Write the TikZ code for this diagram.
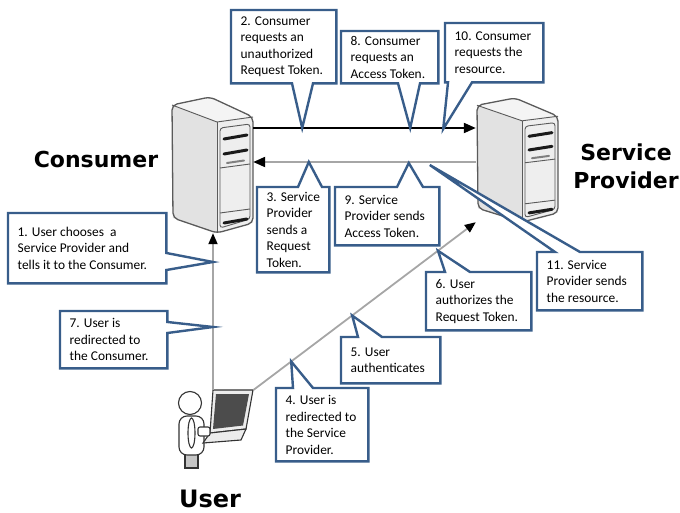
\documentclass[tikz,border=0pt]{standalone}
\usepackage{fontspec}
\newfontfamily\callfont{Carlito}
\newfontfamily\headfont{DejaVu Sans}
\usetikzlibrary{arrows.meta,calc}

\definecolor{calloutblue}{HTML}{385D8A}
\definecolor{linegray}{HTML}{A6A6A6}
\definecolor{srvline}{HTML}{5A5A5A}
\definecolor{srvtop}{HTML}{F4F4F4}
\definecolor{srvside}{HTML}{E2E2E2}
\definecolor{srvfront}{HTML}{EEEEEE}
\definecolor{slotdark}{HTML}{1A1A1A}

\pgfdeclarelayer{art}
\pgfdeclarelayer{bubble}
\pgfsetlayers{art,bubble,main}

\tikzset{
  bubblebox/.style={anchor=north west, inner sep=0pt},
  bubbletext/.style={anchor=west, xshift=9.5pt, inner sep=0pt, align=left,
    font=\callfont\fontsize{13.4}{16.5}\selectfont},
  bubble/.style={draw=calloutblue, line width=2.4pt, fill=white},
  heading/.style={font=\headfont\bfseries\fontsize{22}{28}\selectfont, align=center, inner sep=0pt},
  reqline/.style={draw=black, line width=2pt, -{Triangle[length=12pt,width=10pt]}},
  respline/.style={draw=linegray, line width=2pt, -{Triangle[length=12pt,width=10pt,color=black]}},
  userline/.style={draw=linegray, line width=1.8pt, -{Triangle[length=11pt,width=9pt,color=black]}},
  region/.style={inner sep=0pt},
  srvedge/.style={draw=srvline, line width=0.9pt},
  slot/.style={draw=slotdark, line width=3pt, line cap=round},
  person/.style={draw=black!80, line width=1.1pt, fill=white},
}

% tower server in local coordinates (82 x 136)
\newcommand\servershape{%
  \fill[srvtop] (1,8) -- (39,0) -- (82,20) -- (46,25) -- cycle;
  \fill[srvside] (1,8) -- (46,25) -- (46,136) -- (2,121) -- cycle;
  \fill[srvfront] (46,25) -- (82,20) -- (82,126) -- (46,136) -- cycle;
  \draw[srvedge] (1,8) -- (46,25) -- (82,20);
  \draw[srvedge] (46,25) -- (46,136);
  \draw[srvedge, rounded corners=3pt] (49,31) -- (79,27) -- (79,122) -- (49,131) -- cycle;
  \draw[srvedge] (49,71) -- (79,67);
  \draw[srvedge] (49,116) -- (79,112);
  \draw[slot] (53,42) -- (76,38);
  \draw[slot] (53,57) -- (76,53);
  \draw[slot, draw=gray, line width=2pt] (56,66) -- (73,63.5);
  \draw[slot] (53,126) -- (76,122);
  \draw[draw=srvline, line width=1.3pt, rounded corners=5pt]
    (1,8) -- (39,0) -- (82,20) -- (82,126) -- (46,136) -- (2,121) -- cycle;
}

% speech bubbles: box node, two base offsets along the edge, tip coordinate
\newcommand\bubbleT[4]{\draw[bubble] (#1.south west) -- (#1.north west) --
  ($(#1.north west)+(#2,0)$) -- (#4) -- ($(#1.north west)+(#3,0)$) --
  (#1.north east) -- (#1.south east) -- cycle;}
\newcommand\bubbleB[4]{\draw[bubble] (#1.north west) -- (#1.north east) --
  (#1.south east) -- ($(#1.south west)+(#3,0)$) -- (#4) --
  ($(#1.south west)+(#2,0)$) -- (#1.south west) -- cycle;}
\newcommand\bubbleR[4]{\draw[bubble] (#1.north west) -- (#1.north east) --
  ($(#1.north east)+(0,#2)$) -- (#4) -- ($(#1.north east)+(0,#3)$) --
  (#1.south east) -- (#1.south west) -- cycle;}

\begin{document}
\begin{tikzpicture}[x=1pt,y=-1pt]
\useasboundingbox (0,0) rectangle (680,513);

% regions occupied by the machines and the laptop
\node[region, minimum width=82pt, minimum height=136pt] (consumer) at (212,165) {};
\node[region, minimum width=82pt, minimum height=124pt] (provider) at (517,160) {};
\node[region, minimum width=40pt, minimum height=42pt, anchor=north west] (laptop) at (213,390) {};

\begin{pgfonlayer}{art}
  \begin{scope}[shift={(171,97)}] \servershape \end{scope}
  \begin{scope}[shift={(476,98)}, yscale=0.912] \servershape \end{scope}

  % the user
  \draw[person, fill=gray!45] (185,450) rectangle (198,468);
  \draw[person, rounded corners=8pt] (179,455) -- (179,416) -- (204,416) -- (204,455) -- cycle;
  \draw[person] (191.5,433) ellipse [x radius=3.5, y radius=15];
  \draw[person] (190,403) circle [radius=11.5];

  % laptop
  \draw[person, fill=gray!15] (213,390) -- (253,390) -- (246,429) -- (210,433) -- cycle;
  \fill[black!70] (216,394) -- (249,394) -- (243,425.5) -- (213,429) -- cycle;
  \draw[person, fill=gray!15] (210,433) -- (246,429) -- (241,440) -- (203,443) -- cycle;
  \draw[person, rounded corners=2pt] (198,427) rectangle (210,436);

  % message flows
  \draw[reqline] ([yshift=37pt]consumer.east) coordinate (f0) -- (f0 -| provider.west);
  \draw[respline] ([yshift=-2pt]provider.west) coordinate (r0) -- (r0 -| consumer.east);
  \draw[userline] (laptop.north west) -- (laptop.north west |- consumer.south);
  \draw[userline] (laptop.north east) -- (provider.south west);
\end{pgfonlayer}

% points where the bubbles touch the flows
\coordinate (t1) at ($(laptop.north west)+(0,-128)$);
\coordinate (t7) at ($(laptop.north west)+(0,-63)$);
\coordinate (t2) at ($(f0)+(49,0)$);
\coordinate (t8) at ($(f0)+(157,0)$);
\coordinate (t10) at ($(f0)+(190,1)$);
\coordinate (t3) at ($(r0)+(-167,0)$);
\coordinate (t9) at ($(r0)+(-67,1)$);
\coordinate (t11) at ($(r0)+(-46,3)$);
\coordinate (t4) at ($(laptop.north east)!0.17!(provider.south west)$);
\coordinate (t5) at ($(laptop.north east)!0.444!(provider.south west)$);
\coordinate (t6) at ($(laptop.north east)!0.83!(provider.south west)$);

% labels
\node[heading] (conlabel) at (96,159) {Consumer};
\node[heading] (splabel) at (626,166) {Service\\Provider};
\node[heading, font=\headfont\bfseries\fontsize{24}{28}\selectfont] (userlabel) at (210,499) {User};

% bubble boxes
\node[bubblebox, minimum width=158pt, minimum height=70pt] (b1) at (8,213) {};
\node[bubblebox, minimum width=105pt, minimum height=73pt] (b2) at (231,10) {};
\node[bubblebox, minimum width=72pt, minimum height=85pt] (b3) at (257,187) {};
\node[bubblebox, minimum width=92pt, minimum height=73pt] (b4) at (276,388) {};
\node[bubblebox, minimum width=99pt, minimum height=46pt] (b5) at (341,337) {};
\node[bubblebox, minimum width=105pt, minimum height=58pt] (b6) at (426,272) {};
\node[bubblebox, minimum width=107pt, minimum height=57pt] (b7) at (60,311) {};
\node[bubblebox, minimum width=97pt, minimum height=52pt] (b8) at (341,31) {};
\node[bubblebox, minimum width=104pt, minimum height=58pt] (b9) at (335,187) {};
\node[bubblebox, minimum width=98pt, minimum height=59pt] (b10) at (445,23) {};
\node[bubblebox, minimum width=105pt, minimum height=58pt] (b11) at (537,252) {};

\begin{pgfonlayer}{bubble}
  \bubbleR{b1}{40}{57}{t1}
  \bubbleB{b2}{61}{82}{t2}
  \bubbleT{b3}{41}{65}{t3}
  \bubbleT{b4}{17}{37}{t4}
  \bubbleT{b5}{17}{41}{t5}
  \bubbleT{b6}{19}{44}{t6}
  \bubbleR{b7}{11}{22}{t7}
  \bubbleB{b8}{57}{79}{t8}
  \bubbleT{b9}{62}{88}{t9}
  \bubbleB{b10}{3}{27}{t10}
  \bubbleT{b11}{18}{43}{t11}
\end{pgfonlayer}

% bubble texts
\node[bubbletext] (b1t) at (b1.west) {1. User chooses\ \ a\\Service Provider and\\tells it to the Consumer.};
\node[bubbletext] (b2t) at (b2.west) {2. Consumer\\requests an\\unauthorized\\Request Token.};
\node[bubbletext] (b3t) at (b3.west) {3. Service\\Provider\\sends a\\Request\\Token.};
\node[bubbletext] (b4t) at (b4.west) {4. User is\\redirected to\\the Service\\Provider.};
\node[bubbletext] (b5t) at (b5.west) {5. User\\authenticates};
\node[bubbletext] (b6t) at (b6.west) {6. User\\authorizes the\\Request Token.};
\node[bubbletext] (b7t) at (b7.west) {7. User is\\redirected to\\the Consumer.};
\node[bubbletext] (b8t) at (b8.west) {8. Consumer\\requests an\\Access Token.};
\node[bubbletext] (b9t) at (b9.west) {9. Service\\Provider sends\\Access Token.};
\node[bubbletext] (b10t) at (b10.west) {10. Consumer\\requests the\\resource.};
\node[bubbletext] (b11t) at (b11.west) {11. Service\\Provider sends\\the resource.};
\end{tikzpicture}
\end{document}
